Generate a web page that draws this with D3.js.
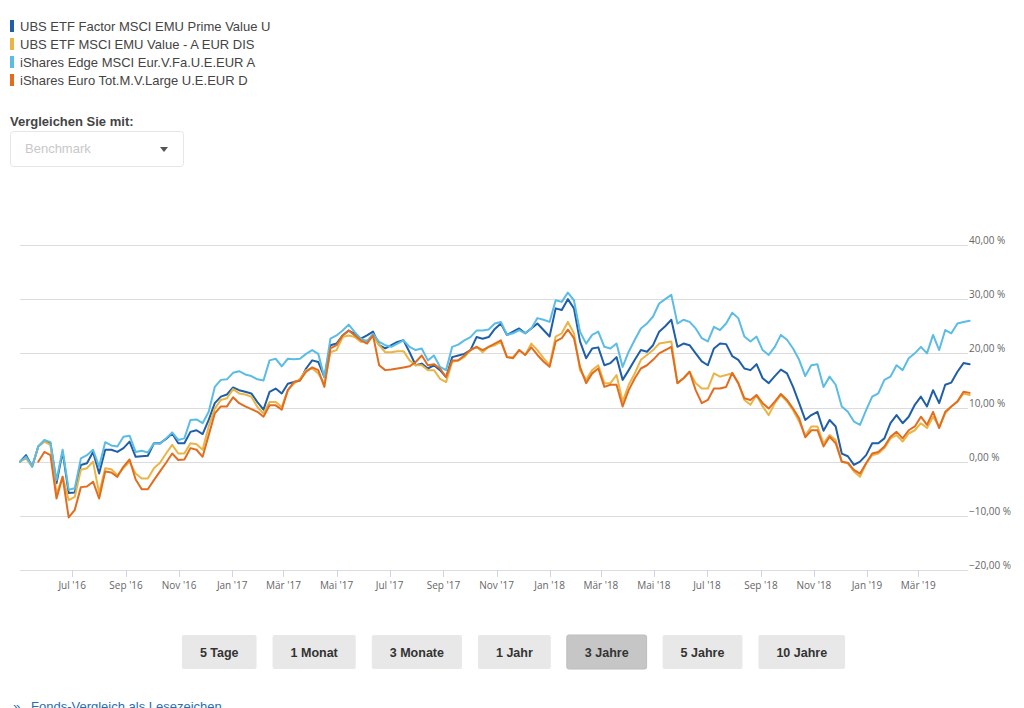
<!DOCTYPE html>
<html><head><meta charset="utf-8">
<script src="https://cdn.jsdelivr.net/npm/d3@7"></script>
<style>
body{margin:0;background:#fff;}
svg{display:block;}
</style></head><body>
<svg id="c" width="1024" height="708"></svg>
<script>
// ---------- data ----------
const seriesNames = [
  "UBS ETF Factor MSCI EMU Prime Value U",
  "UBS ETF MSCI EMU Value - A EUR DIS",
  "iShares Edge MSCI Eur.V.Fa.U.E.EUR A",
  "iShares Euro Tot.M.V.Large U.E.EUR D"
];
const seriesColors = ["#1f5ea8", "#ebb443", "#5bbce4", "#e36d1e"];
// weekly observations (Mondays) from startDate to endDate
const startDate = "2016-05-02";
const endDate = "2019-04-30";

const ubsFactor = [
  0, 1.2, -0.9, 2.8, 3.8, 3.4, -4.0, 1.8, -5.8, -5.7,
  -0.6, -0.3, 1.8, -2.2, 2.2, 2.2, 1.8, 2.5, 3.7, 0.9,
  1.0, 1.1, 3.4, 3.4, 4.2, 5.2, 3.4, 3.4, 5.5, 5.8,
  5.1, 7.7, 10.8, 12.0, 12.4, 13.7, 13.2, 12.9, 12.6, 11.0,
  9.6, 12.9, 13.5, 12.6, 14.4, 14.7, 15.0, 17.2, 18.7, 18.4,
  15.6, 21.5, 21.8, 23.3, 24.2, 23.6, 22.7, 23.3, 24.0, 21.5,
  20.9, 21.5, 22.1, 22.4, 20.2, 17.8, 18.1, 17.2, 17.8, 16.9,
  15.6, 19.3, 19.6, 19.9, 20.6, 23.0, 22.7, 23.0, 24.5, 25.5,
  23.4, 24.0, 24.6, 23.7, 24.6, 25.5, 24.3, 23.1, 28.3, 28.0,
  30.0, 28.3, 22.2, 19.1, 20.9, 21.1, 17.8, 18.2, 19.3, 15.1,
  16.9, 18.8, 20.6, 20.3, 21.5, 24.0, 25.0, 26.2, 21.2, 21.8,
  21.5, 20.0, 18.5, 17.8, 20.9, 21.8, 21.7, 19.5, 18.8, 17.2,
  16.9, 18.0, 15.4, 14.5, 15.8, 17.0, 16.3, 13.8, 10.8, 7.7,
  8.6, 9.2, 5.7, 7.7, 6.5, 1.5, 1.0, -0.6, 0, 1.2,
  3.4, 3.4, 4.3, 7.1, 8.6, 7.1, 8.3, 10.5, 12.0, 10.2,
  13.2, 10.8, 14.2, 14.6, 16.6, 18.2, 18.0
];
const ubsValue = [
  0, 0.6, -0.9, 2.8, 3.7, 3.1, -6.0, -2.8, -7.1, -6.5,
  -1.5, -1.2, 0, -5.8, -1.2, -1.4, -2.5, -1.2, 0, -2.2,
  -3.1, -3.1, -1.2, -0.2, 1.5, 3.1, 1.5, 1.5, 3.4, 3.2,
  2.2, 6.5, 9.8, 11.4, 11.7, 13.4, 12.6, 12.4, 12.0, 10.1,
  8.9, 11.0, 11.0, 10.1, 13.2, 14.4, 15.3, 16.9, 17.2, 16.3,
  14.4, 20.2, 20.6, 23.0, 23.3, 23.0, 22.1, 22.4, 23.1, 21.5,
  20.2, 20.2, 20.4, 20.4, 18.7, 17.8, 17.8, 16.9, 16.9, 15.3,
  14.7, 18.4, 18.7, 19.3, 20.6, 21.2, 20.2, 21.2, 21.5, 22.1,
  19.3, 19.3, 20.6, 19.7, 21.8, 20.6, 19.1, 17.8, 23.1, 23.7,
  25.8, 23.7, 16.9, 15.1, 16.9, 17.8, 14.5, 14.5, 16.0, 11.1,
  14.2, 16.3, 18.8, 19.7, 20.6, 21.8, 22.0, 22.2, 14.5, 15.4,
  16.6, 14.5, 13.5, 13.5, 16.3, 15.7, 16.0, 16.3, 14.5, 11.4,
  10.5, 12.3, 10.2, 8.6, 10.8, 12.3, 11.1, 9.5, 7.4, 4.8,
  6.5, 6.5, 3.4, 4.9, 4.0, 0, -0.3, -1.8, -2.8, -0.3,
  1.2, 1.5, 2.5, 4.3, 4.9, 3.7, 5.2, 5.8, 7.1, 6.2,
  8.3, 6.5, 8.9, 10.2, 11.1, 12.6, 12.3
];
const isharesEdge = [
  0, 0.9, -0.9, 2.8, 4.0, 3.6, -3.4, 2.2, -5.2, -4.9,
  0.6, 1.2, 2.2, -0.9, 3.6, 3.0, 2.8, 4.6, 4.8, 1.8,
  2.0, 1.7, 3.4, 3.3, 4.3, 5.4, 4.0, 4.3, 7.7, 7.8,
  7.1, 9.2, 13.8, 15.1, 15.2, 16.4, 16.7, 16.1, 15.8, 15.2,
  15.0, 18.7, 19.0, 17.6, 19.0, 18.9, 19.0, 19.9, 20.6, 19.9,
  15.6, 22.7, 23.3, 24.2, 25.3, 23.9, 22.7, 22.2, 23.6, 22.1,
  21.5, 21.2, 21.8, 22.4, 21.2, 20.6, 20.9, 18.7, 19.6, 17.5,
  16.9, 21.2, 21.6, 22.4, 23.0, 24.2, 24.2, 24.4, 25.5, 25.8,
  23.4, 23.7, 24.3, 23.7, 24.6, 26.5, 26.2, 25.8, 29.8, 29.5,
  31.2, 29.8, 24.0, 21.8, 23.4, 24.0, 21.2, 20.9, 21.8, 17.5,
  20.3, 22.5, 24.6, 25.5, 26.8, 29.2, 30.0, 30.8, 25.5, 26.2,
  25.8, 24.6, 22.8, 22.2, 24.9, 24.3, 25.5, 27.5, 26.5, 23.1,
  22.2, 23.1, 20.6, 19.7, 21.2, 23.4, 22.5, 20.9, 18.8, 15.8,
  17.8, 18.0, 13.8, 15.7, 14.2, 10.2, 9.2, 7.4, 6.8, 9.5,
  12.0, 12.6, 15.1, 15.7, 17.8, 16.9, 19.1, 20.0, 21.2, 20.0,
  23.4, 20.6, 24.3, 23.7, 25.5, 25.8, 26.0
];
// the iShares Euro Tot. series starts three weeks later (no data before)
const isharesTot = [
  null, null, null, 0, 1.8, 1.2, -6.8, -2.8, -10.3, -8.9,
  -4.7, -4.6, -3.7, -6.8, -1.8, -2.0, -2.8, -0.9, 0.4, -3.3,
  -5.1, -5.1, -3.4, -1.8, -0.2, 1.5, 0.3, 0.4, 2.5, 2.2,
  0.9, 4.9, 8.9, 10.2, 10.2, 11.9, 10.8, 10.2, 9.7, 9.2,
  8.3, 10.4, 10.4, 9.6, 13.2, 14.7, 15.0, 16.6, 17.4, 16.9,
  13.8, 20.9, 21.5, 23.3, 24.2, 23.3, 22.4, 21.8, 23.3, 17.8,
  16.9, 17.0, 17.2, 17.4, 17.6, 18.4, 19.6, 17.8, 18.0, 17.2,
  15.6, 18.7, 18.7, 19.6, 20.6, 21.2, 20.6, 21.2, 21.8, 22.4,
  19.3, 19.1, 20.6, 19.7, 21.1, 19.7, 18.5, 17.5, 22.2, 22.8,
  24.4, 22.8, 17.5, 14.5, 16.3, 17.2, 13.8, 14.2, 14.2, 10.2,
  13.2, 15.4, 17.2, 17.8, 18.8, 20.0, 20.6, 21.2, 14.5, 15.4,
  16.6, 13.2, 10.8, 11.4, 13.5, 13.5, 13.8, 16.4, 14.5, 11.7,
  11.4, 12.3, 10.8, 9.8, 11.1, 12.5, 11.4, 9.8, 8.0, 4.5,
  5.8, 5.8, 2.8, 4.6, 3.4, 0, -0.2, -1.5, -2.2, -0.3,
  1.5, 1.8, 2.8, 4.6, 5.5, 4.3, 5.8, 6.5, 8.3, 6.8,
  9.2, 6.2, 9.2, 10.2, 11.1, 12.9, 12.7
];

const yTicks = [-20, -10, 0, 10, 20, 30, 40];
const xTickDates = ["2016-07-01","2016-09-01","2016-11-01","2017-01-01","2017-03-01","2017-05-01",
  "2017-07-01","2017-09-01","2017-11-01","2018-01-01","2018-03-01","2018-05-01","2018-07-01",
  "2018-09-01","2018-11-01","2019-01-01","2019-03-01"];
const xTickLabels = ["Jul '16","Sep '16","Nov '16","Jan '17","Mär '17","Mai '17","Jul '17","Sep '17",
  "Nov '17","Jan '18","Mär '18","Mai '18","Jul '18","Sep '18","Nov '18","Jan '19","Mär '19"];
const rangeButtons = ["5 Tage","1 Monat","3 Monate","1 Jahr","3 Jahre","5 Jahre","10 Jahre"];
const activeButton = "3 Jahre";
const compareLabel = "Vergleichen Sie mit:";
const selectPlaceholder = "Benchmark";
const bookmarkText = "Fonds-Vergleich als Lesezeichen";

// ---------- drawing ----------
const svg = d3.select("#c");
const parse = d3.timeParse("%Y-%m-%d");
const dates = d3.timeMonday.range(parse(startDate), parse(endDate));
const allSeries = [ubsFactor, ubsValue, isharesEdge, isharesTot];

const x = d3.scaleTime().domain([dates[0], dates[dates.length - 1]]).range([20, 969.6]);
const y = d3.scaleLinear().domain([-20, 40]).range([570, 245]);

const de = d3.formatLocale({decimal: ",", thousands: ".", grouping: [3], currency: ["", " €"], minus: "−"});
const pct = de.format(".2f");
const sans = "'Liberation Sans', Arial, sans-serif";

// legend
const legend = svg.append("g");
seriesNames.forEach((n, i) => {
  const g = legend.append("g").attr("transform", `translate(0,${26 + i * 18})`);
  g.append("rect").attr("x", 10).attr("y", -6).attr("width", 4).attr("height", 12).attr("fill", seriesColors[i]);
  g.append("text").attr("x", 20).attr("y", 4.5).text(n)
    .style("font-family", sans).style("font-size", "13px").attr("fill", "#444");
});

// compare selector
svg.append("text").attr("x", 10).attr("y", 126).text(compareLabel)
  .style("font-family", sans).style("font-size", "13px")
  .style("font-weight", "bold").attr("fill", "#444");
svg.append("rect").attr("x", 10.5).attr("y", 131.5).attr("width", 173).attr("height", 35).attr("rx", 3)
  .attr("fill", "#fff").attr("stroke", "#e6e6e6");
svg.append("text").attr("x", 25).attr("y", 153).text(selectPlaceholder)
  .style("font-family", sans).style("font-size", "13px").attr("fill", "#c8c8c8");
svg.append("path").attr("d", "M160,147 L168,147 L164,152 Z").attr("fill", "#555");

// grid & y labels
const grid = svg.append("g");
grid.selectAll("line").data(yTicks).join("line")
  .attr("x1", 20).attr("x2", 968).attr("y1", d => Math.round(y(d)) + 0.5).attr("y2", d => Math.round(y(d)) + 0.5)
  .attr("stroke", "#dcdcdc").attr("stroke-width", 1);
grid.selectAll("text").data(yTicks).join("text")
  .attr("x", 969).attr("y", d => y(d) - 1)
  .text(d => pct(d) + " %")
  .style("font-family", "'Open Sans', sans-serif").style("font-size", "10px").attr("fill", "#666");

// x axis ticks
const xt = svg.append("g");
const tickDates = xTickDates.map(parse);
xt.selectAll("line").data(tickDates).join("line")
  .attr("x1", d => Math.round(x(d)) + 0.5).attr("x2", d => Math.round(x(d)) + 0.5)
  .attr("y1", 570).attr("y2", 577).attr("stroke", "#ccd6eb");
xt.selectAll("text").data(tickDates).join("text")
  .attr("x", d => x(d)).attr("y", 589).attr("text-anchor", "middle")
  .text((d, i) => xTickLabels[i])
  .style("font-family", "'Open Sans', sans-serif").style("font-size", "10px").attr("fill", "#666");

// lines
const line = d3.line().defined(d => d !== null).x((d, i) => x(dates[i])).y(d => y(d));
allSeries.forEach((s, i) => {
  svg.append("path").datum(s).attr("d", line).attr("fill", "none")
    .attr("stroke", seriesColors[i]).attr("stroke-width", 2)
    .attr("stroke-linejoin", "round").attr("stroke-linecap", "round");
});

// range buttons
const bg = svg.append("g");
const tmp = bg.append("text").style("font-family", sans)
  .style("font-size", "12.5px").style("font-weight", "bold");
const widths = rangeButtons.map(t => { tmp.text(t); return tmp.node().getComputedTextLength() + 36; });
tmp.remove();
const gap = 16;
const total = d3.sum(widths) + gap * (widths.length - 1);
let bx = 513.5 - total / 2;
rangeButtons.forEach((t, i) => {
  const active = t === activeButton;
  bg.append("rect").attr("x", bx).attr("y", 635).attr("width", widths[i]).attr("height", 34).attr("rx", 2)
    .attr("fill", active ? "#c6c6c6" : "#e8e8e8").attr("stroke", active ? "#bdbdbd" : "none");
  bg.append("text").attr("x", bx + widths[i] / 2).attr("y", 657).attr("text-anchor", "middle").text(t)
    .style("font-family", sans).style("font-size", "12.5px")
    .style("font-weight", "bold").attr("fill", "#333");
  bx += widths[i] + gap;
});

// bookmark link (partly below the visible area, as in the page)
svg.append("text").attr("x", 13).attr("y", 711).text("»")
  .style("font-family", sans).style("font-size", "13px").attr("fill", "#2a6db5");
svg.append("text").attr("x", 31).attr("y", 711).text(bookmarkText)
  .style("font-family", sans).style("font-size", "13px").attr("fill", "#2a6db5");
</script>
</body></html>
